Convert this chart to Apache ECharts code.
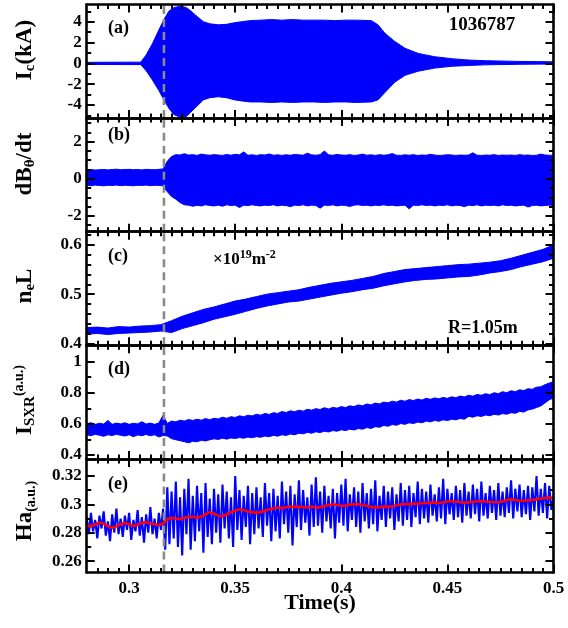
<!DOCTYPE html>
<html><head><meta charset="utf-8">
<script src="https://cdn.jsdelivr.net/npm/echarts@6/dist/echarts.min.js"></script>
<style>html,body{margin:0;padding:0;background:#fff}#c{width:568px;height:628px}</style>
</head><body><div id="c"></div>
<script>
// ---------- data ----------
const X_MIN = 0.28, X_MAX = 0.5;
const xMajorTicks = [0.3, 0.35, 0.4, 0.45, 0.5];
const DASH_T = 0.3164;

// (a) coil current envelope (kA)
const aTime  = [0.28,0.3055,0.308,0.311,0.314,0.3164,0.3187,0.321,0.3244,0.327,0.329,0.332,0.335,0.338,0.342,0.346,0.3496,0.353,0.357,0.362,0.367,0.372,0.377,0.382,0.387,0.392,0.397,0.402,0.407,0.4142,0.4173,0.4205,0.4252,0.43,0.4362,0.444,0.452,0.46,0.4676,0.4832,0.5];
const aUpper = [0.1,0.12,0.8,1.9,3.2,4.2,5.0,5.35,5.5,5.35,5.05,4.5,4.0,3.8,3.7,3.75,3.9,4.0,4.1,4.15,4.2,4.15,4.2,4.15,4.15,4.15,4.1,4.15,4.15,4.1,3.7,2.9,2.1,1.45,0.96,0.64,0.45,0.32,0.26,0.19,0.15];
const aLower = [-0.1,-0.12,-0.7,-1.6,-2.6,-3.5,-4.3,-4.9,-5.2,-5.1,-4.7,-4.1,-3.5,-3.3,-3.2,-3.3,-3.5,-3.6,-3.7,-3.7,-3.75,-3.7,-3.75,-3.7,-3.7,-3.75,-3.7,-3.7,-3.75,-3.7,-3.5,-2.8,-1.8,-1.15,-0.75,-0.45,-0.28,-0.2,-0.14,-0.09,-0.06];
const aTicks = [-4,-2,0,2,4], aMinor = [-5,-3,-1,1,3,5];

// (b) dB/dt envelope, sampled every 0.002 s from 0.28
const bDt = 0.002;
const bUpper = [
 0.48,0.50,0.47,0.49,0.50,0.48,0.50,0.52,0.49,0.50,
 0.51,0.49,0.50,0.48,0.51,0.50,0.49,0.51,0.53,0.95,
 1.20,1.30,1.28,1.35,1.28,1.30,1.26,1.33,1.29,1.27,
 1.30,1.28,1.26,1.31,1.27,1.32,1.29,1.45,1.27,1.29,
 1.26,1.30,1.28,1.34,1.27,1.29,1.26,1.29,1.27,1.31,
 1.29,1.27,1.38,1.29,1.27,1.30,1.50,1.29,1.27,1.31,
 1.28,1.27,1.30,1.26,1.28,1.33,1.27,1.29,1.26,1.30,
 1.27,1.29,1.36,1.27,1.26,1.29,1.27,1.30,1.26,1.28,
 1.27,1.32,1.28,1.26,1.27,1.30,1.28,1.26,1.28,1.27,
 1.28,1.40,1.27,1.26,1.28,1.27,1.30,1.26,1.28,1.27,
 1.28,1.26,1.30,1.27,1.28,1.26,1.27,1.33,1.28,1.27,
 1.26];
const bLower = [
 -0.35,-0.37,-0.34,-0.36,-0.38,-0.35,-0.36,-0.34,-0.37,-0.35,
 -0.36,-0.38,-0.35,-0.36,-0.34,-0.37,-0.35,-0.36,-0.38,-0.70,
 -0.95,-1.10,-1.28,-1.40,-1.42,-1.48,-1.43,-1.46,-1.40,-1.44,
 -1.46,-1.42,-1.48,-1.40,-1.44,-1.42,-1.55,-1.42,-1.44,-1.40,
 -1.44,-1.46,-1.42,-1.44,-1.40,-1.46,-1.42,-1.44,-1.50,-1.42,
 -1.44,-1.40,-1.46,-1.42,-1.44,-1.58,-1.42,-1.44,-1.40,-1.46,
 -1.42,-1.44,-1.49,-1.42,-1.40,-1.44,-1.42,-1.46,-1.42,-1.44,
 -1.40,-1.44,-1.42,-1.46,-1.44,-1.42,-1.62,-1.42,-1.44,-1.40,
 -1.44,-1.42,-1.46,-1.42,-1.44,-1.40,-1.46,-1.42,-1.44,-1.50,
 -1.42,-1.44,-1.40,-1.46,-1.42,-1.44,-1.42,-1.46,-1.40,-1.44,
 -1.42,-1.46,-1.44,-1.42,-1.52,-1.44,-1.42,-1.46,-1.44,-1.42,
 -1.44];
const bTicks = [-2,0,2], bMinor = [-2.5,-1.5,-1,-0.5,0.5,1,1.5,2.5,3];

// (c) line-integrated density envelope, every 0.005 s
const cDt = 0.005;
const cUpper = [.432,.433,.431,.434,.433,.435,.436,.438,.446,.455,
 .462,.469,.474,.480,.486,.490,.495,.500,.503,.506,
 .509,.514,.518,.522,.525,.528,.532,.536,.542,.546,
 .550,.552,.554,.556,.558,.560,.561,.563,.565,.568,
 .573,.579,.585,.591,.600];
const cLower = [.419,.420,.418,.420,.421,.422,.423,.425,.422,.430,
 .436,.442,.449,.454,.459,.465,.471,.476,.480,.484,
 .486,.490,.494,.498,.502,.505,.509,.512,.517,.521,
 .525,.528,.530,.531,.533,.535,.536,.539,.543,.546,
 .550,.556,.561,.566,.573];
const cTicks = [0.4,0.5,0.6], cMinor = [0.42,0.44,0.46,0.48,0.52,0.54,0.56,0.58,0.62];

// (d) SXR envelope, every 0.002 s
const dDt = 0.002;
const dUpper = [
 0.600,0.608,0.596,0.604,0.599,0.622,0.597,0.605,0.600,0.607,
 0.597,0.604,0.600,0.614,0.599,0.605,0.597,0.606,0.655,0.603,
 0.618,0.613,0.624,0.618,0.628,0.622,0.630,0.624,0.634,0.627,
 0.636,0.632,0.643,0.636,0.646,0.641,0.652,0.646,0.656,0.651,
 0.662,0.656,0.667,0.661,0.672,0.667,0.679,0.673,0.684,0.678,
 0.688,0.682,0.694,0.688,0.698,0.692,0.704,0.696,0.706,0.701,
 0.711,0.705,0.716,0.711,0.722,0.716,0.728,0.722,0.734,0.728,
 0.740,0.735,0.746,0.740,0.752,0.745,0.756,0.750,0.760,0.753,
 0.764,0.758,0.767,0.761,0.770,0.764,0.774,0.768,0.779,0.773,
 0.784,0.778,0.789,0.784,0.794,0.788,0.800,0.794,0.807,0.800,
 0.813,0.807,0.819,0.814,0.826,0.822,0.836,0.838,0.852,0.862,
 0.872];
const dLower = [
 0.530,0.524,0.533,0.527,0.520,0.530,0.525,0.533,0.527,0.522,
 0.530,0.518,0.529,0.524,0.532,0.524,0.530,0.516,0.525,0.522,
 0.505,0.498,0.492,0.486,0.478,0.488,0.485,0.495,0.490,0.498,
 0.504,0.500,0.508,0.502,0.510,0.506,0.512,0.508,0.515,0.511,
 0.518,0.514,0.522,0.518,0.526,0.521,0.530,0.526,0.535,0.530,
 0.540,0.536,0.545,0.540,0.549,0.544,0.553,0.548,0.557,0.553,
 0.562,0.557,0.566,0.561,0.570,0.566,0.576,0.571,0.582,0.578,
 0.590,0.585,0.596,0.591,0.602,0.597,0.607,0.602,0.612,0.607,
 0.618,0.613,0.622,0.617,0.626,0.621,0.630,0.626,0.635,0.630,
 0.648,0.643,0.652,0.648,0.657,0.652,0.662,0.657,0.666,0.662,
 0.672,0.668,0.680,0.676,0.690,0.695,0.705,0.715,0.735,0.755,
 0.766];
const dTicks = [0.4,0.6,0.8,1], dMinor = [0.5,0.7,0.9];

// (e) H-alpha raw (every 0.001 s) and smoothed (every 0.002 s)
const eRawDt = 0.001;
const eRaw = [
 .291,.279,.294,.281,.289,.276,.292,.283,.295,.278,
 .288,.274,.293,.280,.297,.279,.290,.277,.292,.282,
 .294,.275,.289,.281,.296,.278,.291,.273,.293,.280,
 .298,.279,.290,.276,.294,.282,.297,.268,.312,.272,
 .309,.276,.316,.270,.305,.264,.311,.279,.318,.268,
 .306,.274,.313,.281,.308,.266,.315,.277,.304,.272,
 .311,.280,.307,.273,.314,.283,.309,.276,.305,.270,
 .320,.282,.310,.275,.306,.284,.313,.272,.308,.279,
 .312,.283,.305,.277,.315,.285,.308,.274,.311,.281,
 .306,.276,.316,.286,.309,.280,.313,.271,.307,.284,
 .317,.282,.310,.287,.305,.278,.314,.284,.319,.285,
 .309,.280,.313,.288,.306,.283,.311,.276,.308,.287,
 .314,.285,.318,.281,.307,.289,.312,.284,.309,.280,
 .315,.288,.308,.283,.311,.286,.317,.281,.306,.289,
 .313,.284,.309,.290,.312,.282,.307,.288,.315,.285,
 .310,.289,.313,.284,.308,.291,.316,.286,.311,.290,
 .309,.287,.314,.292,.307,.288,.312,.290,.318,.286,
 .311,.293,.308,.289,.313,.291,.310,.287,.315,.292,
 .309,.290,.314,.293,.311,.288,.316,.292,.308,.290,
 .313,.294,.310,.289,.315,.292,.309,.291,.312,.294,
 .317,.290,.311,.295,.314,.291,.310,.293,.313,.289,
 .312,.295,.320,.292,.311,.294,.315,.290,.313,.296,
 .305];
const eSmoothDt = 0.002;
const eSmooth = [
 .2850,.2845,.2860,.2870,.2865,.2845,.2835,.2845,.2860,.2870,
 .2860,.2850,.2855,.2870,.2875,.2865,.2860,.2855,.2865,.2895,
 .2905,.2900,.2895,.2905,.2910,.2912,.2905,.2915,.2930,.2945,
 .2935,.2920,.2915,.2930,.2945,.2955,.2965,.2960,.2950,.2945,
 .2940,.2945,.2955,.2965,.2970,.2978,.2975,.2980,.2985,.2982,
 .2984,.2980,.2978,.2985,.2975,.2980,.2988,.2995,.3000,.2995,
 .2988,.2992,.2998,.3000,.3002,.2995,.2990,.2982,.2978,.2980,
 .2984,.2982,.2986,.2992,.3000,.3002,.3000,.3005,.3004,.3008,
 .3010,.3012,.3014,.3010,.3015,.3020,.3023,.3020,.3015,.3012,
 .3014,.3018,.3022,.3023,.3020,.3018,.3016,.3015,.3020,.3030,
 .3035,.3030,.3025,.3023,.3028,.3032,.3035,.3040,.3045,.3047,
 .3046];
const eTicks = [0.26,0.28,0.3,0.32], eMinor = [0.27,0.29,0.31];

// ---------- layout / style ----------
const BLUE = '#0000ff', RED = '#ff0000';
const FONT = 'Liberation Serif';
const GRID_LEFT = 86.7, GRID_W = 466.8, GRID_H = 113.6, GRID_TOP0 = 4.5;
const yRanges = [[-5.25,5.65],[-2.85,3.27],[0.396,0.627],[0.375,1.105],[0.252,0.332]];
const yMajors = [aTicks,bTicks,cTicks,dTicks,eTicks];
const yMinors = [aMinor,bMinor,cMinor,dMinor,eMinor];

const xMinorTicks = [];
for (let k = 57; k < 100; k++) if (k % 10 !== 0) xMinorTicks.push(+(k*0.005).toFixed(3));

const uniform = (t0, dt, n) => Array.from({length:n}, (_, i) => +(t0 + i*dt).toFixed(4));
const pairs = (ts, vs) => ts.map((t, i) => [t, vs[i]]);

const grids = [], xAxes = [], yAxes = [], series = [];
const labelStyle = {color:'#000', fontFamily:FONT, fontWeight:'bold', fontSize:17};

for (let g = 0; g < 5; g++) {
  grids.push({left:GRID_LEFT, width:GRID_W, top:GRID_TOP0 + g*GRID_H, height:GRID_H, containLabel:false});
  const mkX = (pos, major) => ({
    type:'value', gridIndex:g, position:pos, min:X_MIN, max:X_MAX, z:10,
    axisLine:{show:major, onZero:false, lineStyle:{color:'#000', width:2.6}},
    axisTick:{show:true, inside:true, length:major?8:4.5, customValues:major?xMajorTicks:xMinorTicks, lineStyle:{color:'#000', width:2}},
    axisLabel:Object.assign({show:major && pos==='bottom' && g===4, customValues:xMajorTicks, margin:8}, labelStyle),
    splitLine:{show:false}
  });
  xAxes.push(mkX('bottom', true), mkX('bottom', false), mkX('top', true), mkX('top', false));
  const mkY = (pos, major) => ({
    type:'value', gridIndex:g, position:pos, min:yRanges[g][0], max:yRanges[g][1], z:10,
    axisLine:{show:major, onZero:false, lineStyle:{color:'#000', width:2.6}},
    axisTick:{show:true, inside:true, length:major?8:4.5, customValues:major?yMajors[g]:yMinors[g], lineStyle:{color:'#000', width:2}},
    axisLabel:Object.assign({show:major && pos==='left', customValues:yMajors[g], margin:5}, labelStyle),
    splitLine:{show:false}
  });
  yAxes.push(mkY('left', true), mkY('left', false), mkY('right', true), mkY('right', false));
}

// filled band between lower and upper envelopes, drawn through the axis scales
function band(g, ts, lo, hi) {
  const rows = ts.map((t, i) => [t, lo[i], hi[i]]);
  series.push({
    type:'custom', xAxisIndex:g*4, yAxisIndex:g*4, silent:true, z:2,
    encode:{x:0, y:[1,2]},
    data:rows,
    renderItem:function(params, api) {
      if (params.dataIndex !== 0) return null;
      const top = rows.map(r => api.coord([r[0], r[2]]));
      const bot = rows.slice().reverse().map(r => api.coord([r[0], r[1]]));
      return {type:'polygon', shape:{points:top.concat(bot)},
        style:{fill:BLUE, stroke:BLUE, lineWidth:1}};
    }
  });
}

band(0, aTime, aLower, aUpper);
band(1, uniform(X_MIN, bDt, bUpper.length), bLower, bUpper);
band(2, uniform(X_MIN, cDt, cUpper.length), cLower, cUpper);
band(3, uniform(X_MIN, dDt, dUpper.length), dLower, dUpper);
series.push({type:'line', xAxisIndex:16, yAxisIndex:16, symbol:'none', silent:true, z:2,
  data:pairs(uniform(X_MIN, eRawDt, eRaw.length), eRaw), lineStyle:{color:BLUE, width:2.1}});
series.push({type:'line', xAxisIndex:16, yAxisIndex:16, symbol:'none', silent:true, z:3,
  data:pairs(uniform(X_MIN, eSmoothDt, eSmooth.length), eSmooth), lineStyle:{color:RED, width:2.6}});

// dashed time marker in every panel
for (let g = 0; g < 5; g++) {
  series.push({type:'line', xAxisIndex:g*4, yAxisIndex:g*4, symbol:'none', silent:true, z:6,
    data:[[DASH_T, yRanges[g][0]], [DASH_T, yRanges[g][1]]],
    lineStyle:{color:'#8a8a8a', width:2.6, type:[8,5]}});
}

const tok = (size, va, lh) => ({fontSize:size, fontFamily:FONT, fontWeight:'bold', fill:'#000', verticalAlign:va, lineHeight:lh});
const titleRich = {m:tok(23,'middle',26), s:tok(15,'bottom',12), u:tok(14,'top',14), b:tok(14,'bottom',18)};
const yTitle = (y, text) => ({type:'text', x:25, y:y, rotation:Math.PI/2, z:20,
  style:{text:text, align:'center', verticalAlign:'middle', rich:titleRich}});
const plain = (x, y, text, size, align) => ({type:'text', x:x, y:y, z:20,
  style:{text:text, align:align||'left', verticalAlign:'middle', fontSize:size, fontFamily:FONT, fontWeight:'bold', fill:'#000'}});

const graphics = [
  yTitle(50, '{m|I}{s|c}{m|(kA)}'),
  yTitle(164, '{m|dB}{s|θ}{m|/dt}'),
  yTitle(286, '{m|n}{s|e}{m|L}'),
  yTitle(400, '{m|I}{s|SXR}{u|(a.u.)}'),
  yTitle(511, '{m|Ha}{b|(a.u.)}'),
  plain(108, 28, '(a)', 18), plain(108, 135, '(b)', 18), plain(108, 256, '(c)', 18),
  plain(108, 369.5, '(d)', 18), plain(108, 484, '(e)', 18),
  plain(482, 25, '1036787', 19, 'center'),
  plain(448, 328, 'R=1.05m', 18),
  plain(320, 603, 'Time(s)', 22, 'center'),
  {type:'text', x:213, y:260, z:20, style:{text:'{m|×10}{p|19}{m|m}{p|-2}', align:'left', verticalAlign:'middle',
    rich:{m:tok(17,'middle',22), p:tok(12,'top',10)}}}
];

const chart = echarts.init(document.getElementById('c'), null, {renderer:'canvas'});
chart.setOption({
  animation:false,
  backgroundColor:'#fff',
  grid:grids, xAxis:xAxes, yAxis:yAxes, series:series, graphic:graphics
});
</script></body></html>
